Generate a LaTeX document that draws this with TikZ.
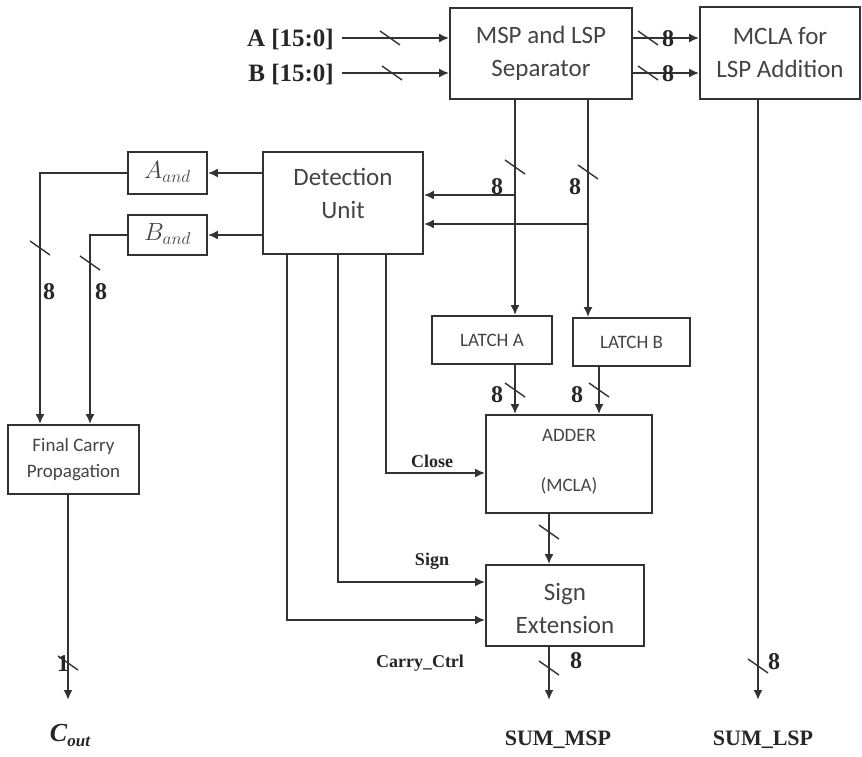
\documentclass[tikz,border=0pt]{standalone}
\usepackage{fontspec}
\setmainfont{Liberation Serif}
\newfontfamily\boxfont{Carlito}
\usetikzlibrary{arrows.meta,calc}
\definecolor{ink}{HTML}{333333}
\definecolor{txt}{HTML}{444444}
\begin{document}
\begin{tikzpicture}[x=1pt,y=-1pt,
  wire/.style={draw=ink,line width=1.8pt},
  arr/.style={wire,-{Latex[length=10pt,width=9pt]}},
  blk/.style={draw=ink,line width=1.8pt,fill=white,inner sep=2pt,align=center,text=txt,
     font=\boxfont\fontsize{25}{33}\selectfont},
  sblk/.style={blk,font=\boxfont\fontsize{19}{26}\selectfont},
  btxt/.style={inner sep=0pt,align=center,text=txt,font=\boxfont\fontsize{25}{33}\selectfont},
  lab/.style={inner sep=0pt,font=\bfseries\fontsize{25}{28}\selectfont,text=black!85},
  num/.style={inner sep=0pt,font=\bfseries\fontsize{24}{26}\selectfont,text=black!85},
  slab/.style={inner sep=0pt,font=\bfseries\fontsize{18}{20}\selectfont,text=black!85},
  bustick/.pic={\draw[wire,line width=1.4pt] (-10,-7) -- (10,7);}
]
\useasboundingbox (0,0) rectangle (862,757);
% blocks
\node[blk,minimum width=182pt,minimum height=91pt] (sep) at (541,53.5) {MSP and LSP\\Separator};
\node[blk,minimum width=160pt,minimum height=92pt] (mcla) at (780,53) {MCLA for\\LSP Addition};
\node[blk,minimum width=160pt,minimum height=102pt] (det) at (343,203) {};
\node[btxt] (dettxt) at (343,193) {Detection\\Unit};
\node[sblk,minimum width=79pt,minimum height=42pt] (aand) at (167.5,173) {};
\node[inner sep=0pt,text=txt,font=\fontsize{24}{26}\selectfont] (aandtxt) at (167.5,172) {$A_{and}$};
\node[sblk,minimum width=79pt,minimum height=40pt] (band) at (167.5,235) {};
\node[inner sep=0pt,text=txt,font=\fontsize{24}{26}\selectfont] (bandtxt) at (167.5,234) {$B_{and}$};
\node[sblk,minimum width=131pt,minimum height=69pt] (fcp) at (73.5,459.5) {Final Carry\\Propagation};
\node[sblk,minimum width=120pt,minimum height=48pt] (la) at (492,340) {LATCH A};
\node[sblk,minimum width=117pt,minimum height=48pt] (lb) at (631.5,342) {LATCH B};
\node[sblk,minimum width=166pt,minimum height=98pt] (add) at (569,464) {};
\node[btxt,font=\boxfont\fontsize{19}{24}\selectfont] (addtxt) at (569,462) {ADDER\\[26pt](MCLA)};
\node[blk,minimum width=158pt,minimum height=81pt] (sext) at (565,605.5) {};
\node[btxt] (sexttxt) at (565,608) {Sign\\Extension};
% coordinates
\coordinate (ain) at (342,38);
\coordinate (bin) at (342,73);
\coordinate (xa) at (515,0);
\coordinate (xb) at (588,0);
\coordinate (xb2) at (599,0);
\coordinate (ya) at (0,195);
\coordinate (yb) at (0,224);
\coordinate (xl1) at (40,0);
\coordinate (xl2) at (90,0);
\coordinate (cout) at (68,700);
\coordinate (xc) at (386,0);
\coordinate (yc) at (0,473);
\coordinate (xs) at (338,0);
\coordinate (ys) at (0,582);
\coordinate (xk) at (287,0);
\coordinate (yk) at (0,620);
\coordinate (xm) at (549,0);
\coordinate (msp) at (549,700);
\coordinate (lsp) at (758,700);
% input labels
\node[lab,anchor=east] (alab) at (334,40) {A [15:0]};
\node[lab,anchor=east] (blab) at (334,75) {B [15:0]};
% inputs
\draw[arr] (ain) -- (ain -| sep.west);
\draw[arr] (bin) -- (bin -| sep.west);
\pic at (390,38) {bustick};
\pic at (392,73) {bustick};
% separator to MCLA
\draw[arr] (sep.east |- ain) -- (mcla.west |- ain);
\draw[arr] (sep.east |- bin) -- (mcla.west |- bin);
\pic at (648,38) {bustick};
\pic at (648,73) {bustick};
\node[num] (n1) at (668,39) {8};
\node[num] (n2) at (668,74) {8};
% separator down to latches
\draw[arr] (sep.south -| xa) -- (la.north -| xa);
\draw[arr] (sep.south -| xb) -- (lb.north -| xb);
\pic at (515,167) {bustick};
\pic at (588,172) {bustick};
\node[num] (n3) at (497,187) {8};
\node[num] (n4) at (575,187) {8};
\draw[arr] (xa |- ya) -- (det.east |- ya);
\draw[arr] (xb |- yb) -- (det.east |- yb);
% detection to and boxes
\draw[arr] (det.west |- aand) -- (aand.east);
\draw[arr] (det.west |- band) -- (band.east);
\draw[arr] (aand.west) -| (fcp.north -| xl1);
\draw[arr] (band.west) -| (fcp.north -| xl2);
\pic at (40,248) {bustick};
\pic at (90,263) {bustick};
\node[num] (n5) at (49,292) {8};
\node[num] (n6) at (101,292) {8};
% carry out
\draw[arr] (fcp.south -| cout) -- (cout);
\pic at (68,663) {bustick};
\node[num] (n7) at (63,664) {1};
\node[inner sep=0pt,font=\bfseries\itshape\fontsize{26}{28}\selectfont,text=black!85] (coutl) at (70,735) {C\raisebox{-5pt}{\fontsize{17}{18}\selectfont out}};
% detection control lines
\draw[arr] (det.south -| xc) |- (add.west |- yc);
\draw[arr] (det.south -| xs) |- (sext.west |- ys);
\draw[arr] (det.south -| xk) |- (sext.west |- yk);
\node[slab] (close) at (432,461) {Close};
\node[slab] (sign) at (432,561) {Sign};
\node[slab] (cctrl) at (420,663) {Carry\_Ctrl};
% latches to adder
\draw[arr] (la.south -| xa) -- (add.north -| xa);
\draw[arr] (lb.south -| xb2) -- (add.north -| xb2);
\pic at (515,390) {bustick};
\pic at (599,390) {bustick};
\node[num] (n8) at (497,395) {8};
\node[num] (n9) at (577,395) {8};
% adder to sign extension
\draw[arr] (add.south -| xm) -- (sext.north -| xm);
\pic at (549,532) {bustick};
% outputs
\draw[arr] (sext.south -| msp) -- (msp);
\pic at (549,668) {bustick};
\node[num] (n10) at (576,661) {8};
\node[lab,font=\bfseries\fontsize{22}{24}\selectfont] (summsp) at (558,740) {SUM\_MSP};
\draw[arr] (mcla.south -| lsp) -- (lsp);
\pic at (758,666) {bustick};
\node[num] (n11) at (774,662) {8};
\node[lab,font=\bfseries\fontsize{22}{24}\selectfont] (sumlsp) at (763,740) {SUM\_LSP};
\end{tikzpicture}
\end{document}
